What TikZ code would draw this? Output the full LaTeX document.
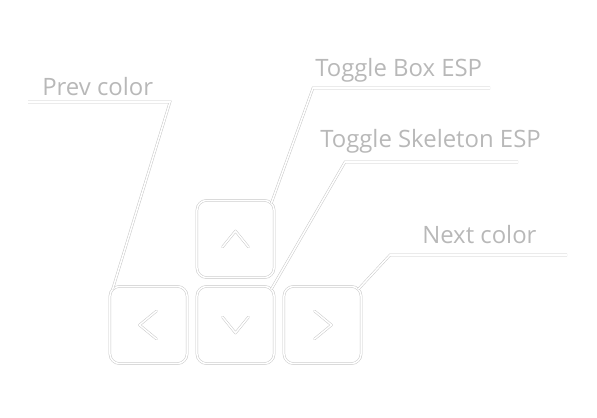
\documentclass[tikz,border=0pt]{standalone}
\usepackage{fontspec}
\setmainfont{Open Sans}
\usetikzlibrary{calc,positioning}

\tikzset{
  glow/.style={draw=black!22, double=white, double distance=1.1pt, line width=.35pt},
  keybox/.style={glow, rounded corners=7pt, minimum size=1.93cm, inner sep=0pt},
  chevron/.style={glow, line cap=round, line join=round},
  hint/.style={anchor=base west, inner sep=0pt, text=black!28, font=\fontsize{17}{20}\selectfont},
}

\begin{document}
\begin{tikzpicture}[x=0.025cm, y=-0.025cm]
    \useasboundingbox (0,0) rectangle (597,418);

    % keys
    \node[keybox] (keyup)    at (235.5,239) {};
    \node[keybox] (keyleft)  at (148.5,325) {};
    \node[keybox] (keydown)  at (235.5,325) {};
    \node[keybox] (keyright) at (322.5,325) {};

    \draw[chevron,shift={(keyup.center)}]    (-13,8) -- (0,-8) -- (13,8);
    \draw[chevron,shift={(keydown.center)}]  (-13,-8) -- (0,8) -- (13,-8);
    \draw[chevron,shift={(keyleft.center)}]  (8,-14) -- (-9,0) -- (8,14);
    \draw[chevron,shift={(keyright.center)}] (-8,-14) -- (9,0) -- (-8,14);

    % labels
    \node[hint] (prevlbl) at (42,96)  {Prev color};
    \node[hint] (boxlbl)  at (315,77) {Toggle Box ESP};
    \node[hint] (skellbl) at (320,148) {Toggle Skeleton ESP};
    \node[hint] (nextlbl) at (422,244) {Next color};

    \coordinate (prevA) at (28,102);  \coordinate (prevB) at (170,102);
    \coordinate (boxA)  at (313,88);  \coordinate (boxB)  at (490,88);
    \coordinate (skelA) at (345,162); \coordinate (skelB) at (518,162);
    \coordinate (nextA) at (390,255); \coordinate (nextB) at (567,255);

    % leader lines
    \draw[glow] (prevA) -- (prevB) -- ($(keyleft.north west)+(3,3)$);
    \draw[glow] (boxB) -- (boxA) -- ($(keyup.north east)+(-3,3)$);
    \draw[glow] (skelB) -- (skelA) -- ($(keydown.north east)+(-3,3)$);
    \draw[glow] (nextB) -- (nextA) -- ($(keyright.north east)+(-3,3)$);
\end{tikzpicture}
\end{document}
